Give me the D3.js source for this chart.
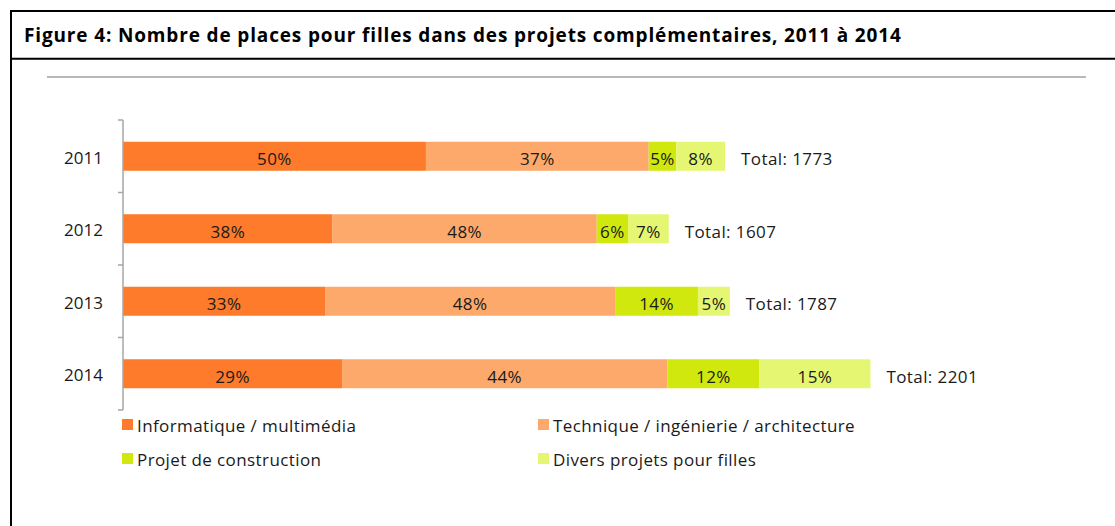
<!DOCTYPE html>
<html>
<head>
<meta charset="utf-8">
<script src="https://cdn.jsdelivr.net/npm/d3@7"></script>
<style>
  html, body { margin: 0; padding: 0; background: #fff; }
  svg { display: block; font-family: "Open Sans", Lato, sans-serif; font-variant-ligatures: none; }
</style>
</head>
<body>
<svg id="chart" width="1115" height="526"></svg>
<script>
// ======================
// Données
// ======================
const years = ["2011", "2012", "2013", "2014"];
const categories = [
  "Informatique / multimédia",
  "Technique / ingénierie / architecture",
  "Projet de construction",
  "Divers projets pour filles"
];
const informatique = [892, 617, 595, 645];
const technique = [656, 778, 854, 958];
const construction = [81, 92, 244, 271];
const divers = [144, 120, 94, 327];
const totals = [1773, 1607, 1787, 2201];
const colors = ["#fd7b2b", "#fca96b", "#d1e80e", "#e5f672"];

const title = "Figure 4: Nombre de places pour filles dans des projets complémentaires, 2011 à 2014";

const rows = years.map((y, i) => ({
  year: y,
  [categories[0]]: informatique[i],
  [categories[1]]: technique[i],
  [categories[2]]: construction[i],
  [categories[3]]: divers[i],
  total: totals[i]
}));

const svg = d3.select("#chart");

// =========================
// Cadre + titre
// =========================
svg.append("rect").attr("width", 1115).attr("height", 526).attr("fill", "#fff");

svg.append("line")
  .attr("x1", 11).attr("x2", 11).attr("y1", 10).attr("y2", 526)
  .attr("stroke", "#000").attr("stroke-width", 2);
svg.append("line")
  .attr("x1", 10).attr("x2", 1115).attr("y1", 11).attr("y2", 11)
  .attr("stroke", "#000").attr("stroke-width", 2);
svg.append("line")
  .attr("x1", 10).attr("x2", 1115).attr("y1", 58.7).attr("y2", 58.7)
  .attr("stroke", "#000").attr("stroke-width", 2);

svg.append("text")
  .attr("x", 24)
  .attr("y", 41.5)
  .text(title)
  .style("font-size", "19px")
  .style("letter-spacing", "0.85px")
  .style("font-weight", "bold")
  .style("fill", "#000");

// ligne grise sous le titre
svg.append("line")
  .attr("x1", 47).attr("x2", 1086).attr("y1", 77).attr("y2", 77)
  .attr("stroke", "#a0a0a0").attr("stroke-width", 1.4);

// =========================
// Échelles
// =========================
const x = d3.scaleLinear().domain([0, 2500]).range([123, 972]);
const y = d3.scaleBand().domain(years).range([120, 410])
  .paddingInner(0.6).paddingOuter(0.3);

const stack = d3.stack().keys(categories)(rows);
const pct = d3.format(".0%");

// =========================
// Barres
// =========================
const layer = svg.append("g").selectAll("g")
  .data(stack)
  .join("g")
  .attr("fill", (d, i) => colors[i]);

layer.selectAll("rect")
  .data(d => d)
  .join("rect")
  .attr("x", d => x(d[0]))
  .attr("y", d => y(d.data.year))
  .attr("width", d => x(d[1]) - x(d[0]))
  .attr("height", y.bandwidth());

layer.selectAll("text")
  .data(d => d.map(v => ({ v, key: d.key })))
  .join("text")
  .attr("x", d => (x(d.v[0]) + x(d.v[1])) / 2)
  .attr("y", d => y(d.v.data.year) + y.bandwidth() / 2 + 9)
  .attr("text-anchor", "middle")
  .text(d => pct(d.v.data[d.key] / d.v.data.total))
  .style("font-size", "17px")
  .style("letter-spacing", "0.4px")
  .style("fill", "#1a1a1a");

// Totaux
svg.append("g").selectAll("text")
  .data(rows)
  .join("text")
  .attr("x", d => x(d.total) + 16)
  .attr("y", d => y(d.year) + y.bandwidth() / 2 + 9)
  .text(d => `Total: ${d.total}`)
  .style("font-size", "17px")
  .style("letter-spacing", "0.4px")
  .style("fill", "#1a1a1a");

// =========================
// Axe vertical
// =========================
const axis = svg.append("g");
const step = y.step();
const edges = years.map(yr => y(yr) - step * 0.3).concat([y(years[years.length - 1]) + y.bandwidth() + step * 0.3]);

axis.append("line")
  .attr("x1", 123).attr("x2", 123)
  .attr("y1", edges[0]).attr("y2", edges[edges.length - 1])
  .attr("stroke", "#a6a6a6").attr("stroke-width", 1.5);

axis.selectAll(".tick")
  .data(edges)
  .join("line")
  .attr("class", "tick")
  .attr("x1", 118).attr("x2", 123)
  .attr("y1", d => d).attr("y2", d => d)
  .attr("stroke", "#a6a6a6").attr("stroke-width", 1.5);

axis.selectAll(".yl")
  .data(years)
  .join("text")
  .attr("class", "yl")
  .attr("x", 103)
  .attr("y", d => y(d) + y.bandwidth() / 2 + 7.6)
  .attr("text-anchor", "end")
  .text(d => d)
  .style("font-size", "17px")
  .style("fill", "#1a1a1a");

// =========================
// Légende
// =========================
const legendPos = [[122, 419], [538, 419], [122, 453], [538, 453]];

const legend = svg.append("g").selectAll("g")
  .data(categories)
  .join("g")
  .attr("transform", (d, i) => `translate(${legendPos[i][0]}, ${legendPos[i][1]})`);

legend.append("rect")
  .attr("width", 11)
  .attr("height", 11)
  .attr("fill", (d, i) => colors[i]);

legend.append("text")
  .attr("x", 15)
  .attr("y", 12.5)
  .text(d => d)
  .style("font-size", "17px")
  .style("letter-spacing", "0.4px")
  .style("fill", "#1a1a1a");
</script>
</body>
</html>
